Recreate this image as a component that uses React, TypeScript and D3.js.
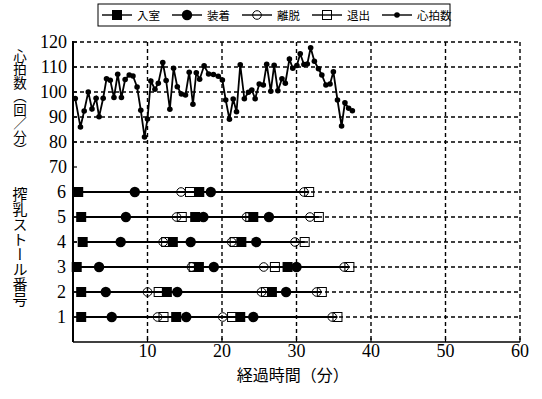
import { scaleLinear, line } from "d3";

// heart rate (minutes, beats/min)
const hrTimes = [
  0.3, 1.0, 1.5, 2.05, 2.55, 3.1, 3.5, 4.05, 4.5, 5.0, 5.5, 6.0, 6.5, 7.0, 7.55, 8.05, 8.6, 9.1, 9.6, 10.0,
  10.45, 11.0, 11.45, 12.05, 12.5, 13.0, 13.5, 14.0, 14.55, 15.1, 15.6, 16.1, 16.55, 17.0, 17.6, 18.2, 18.85,
  19.5, 20.05, 20.5, 21.0, 21.5, 21.95, 22.45, 23.0, 23.55, 24.0, 24.45, 25.0, 25.55, 26.0, 26.55, 27.0, 27.5,
  28.05, 28.5, 29.05, 29.5, 30.05, 30.5, 31.0, 31.45, 31.9, 32.4, 32.95, 33.4, 33.95, 34.5, 34.95, 35.5, 36.05,
  36.5, 37.0, 37.5,
];
const hrValues = [
  97.4, 86.0, 92.4, 100, 93.2, 97.5, 90.1, 97.5, 105.3, 104.7, 97.8, 107.1, 97.8, 105, 106.8, 106.4, 102, 92.7,
  82, 89.2, 104.4, 101.1, 103.5, 111.8, 104.6, 93.1, 109.5, 102.1, 99.2, 98.8, 107.9, 95.1, 107.7, 105.1, 110.5,
  107.2, 107, 106.3, 104.8, 96.8, 89.1, 97.2, 92.1, 110.9, 97.3, 99.9, 100.8, 97.3, 103.2, 102.8, 111.1, 100.3,
  110.7, 100.5, 105.3, 103.5, 113.2, 109.5, 110.6, 115.3, 111, 111.2, 117.7, 112.3, 109.3, 106.8, 102.8, 103.2,
  108.1, 96.8, 86.4, 95.7, 93.5, 92.5,
];

// milking stalls 1..6, event times (minutes)
const stalls = [1, 2, 3, 4, 5, 6];
const enterTimes = [
  [1.1, 13.85, 22.45],
  [1.1, 12.6, 26.7],
  [0.5, 16.9, 28.8],
  [1.3, 13.4, 22.6],
  [1.1, 16.4, 24.2],
  [0.7, 16.95],
];
const attachTimes = [
  [5.2, 15.2, 24.2],
  [4.4, 14.0, 28.6],
  [3.5, 18.9, 30.0],
  [6.4, 15.8, 24.6],
  [7.1, 17.5, 26.3],
  [8.3, 18.5],
];
const detachTimes = [
  [11.35, 20.1, 34.8],
  [10.0, 25.3, 32.7],
  [15.9, 25.6, 36.4],
  [12.1, 21.3, 29.8],
  [13.9, 23.3, 31.8],
  [14.5, 31.0],
];
const exitTimes = [
  [12.15, 21.35, 35.5],
  [11.5, 25.9, 33.4],
  [16.2, 27.1, 37.1],
  [12.5, 21.7, 31.1],
  [14.6, 23.8, 33.0],
  [15.7, 31.7],
];

const xTicks = [10, 20, 30, 40, 50, 60];
const hrTicks = [70, 80, 90, 100, 110, 120];
const hrGrid = [80, 90, 100, 110, 120];
const legendLabels = ["入室", "装着", "離脱", "退出", "心拍数"];
const xTitle = "経過時間（分）";
const yTitleTop = "心拍数（回／分）";
const yTitleBottom = "搾乳ストール番号";

const W = 542;
const H = 399;
const serif = "'Liberation Serif', 'DejaVu Serif', serif";
const cjk = "'Noto Sans CJK JP', sans-serif";

const x = scaleLinear().domain([0, 60]).range([73, 520]);
// one slot per stall row, then 70..120 in slots 7..12
const y = scaleLinear().domain([0, 12]).range([342, 42]);
const yHr = scaleLinear().domain([70, 120]).range([y(7), y(12)]);

type Kind = "enter" | "attach" | "detach" | "exit" | "hr";

function Marker({ kind, cx, cy }: { kind: Kind; cx: number; cy: number }) {
  if (kind === "enter") return <rect x={cx - 5} y={cy - 5} width={10} height={10} fill="#000" />;
  if (kind === "attach") return <circle cx={cx} cy={cy} r={5.2} fill="#000" />;
  if (kind === "detach") return <circle cx={cx} cy={cy} r={4.3} fill="none" stroke="#000" strokeWidth={1} />;
  if (kind === "exit")
    return <rect x={cx - 4.5} y={cy - 4.5} width={9} height={9} fill="none" stroke="#000" strokeWidth={1} />;
  return <circle cx={cx} cy={cy} r={2.8} fill="#000" />;
}

const legendKinds: Kind[] = ["enter", "attach", "detach", "exit", "hr"];

export default function App() {
  const hrPath = line<number>()
    .x((_, i) => x(hrTimes[i]))
    .y((v) => yHr(v))(hrValues);

  const [x0, x1] = x.range();
  const yTop = y(12);
  const yBot = y(0);

  return (
    <div style={{ position: "absolute", left: 0, top: 0 }}>
      <svg width={W} height={H} style={{ display: "block", background: "#fff" }}>
        {/* dashed grid */}
        <g stroke="#000" strokeWidth={1.4} strokeDasharray="4,3" fill="none">
          {xTicks.map((t) => (
            <line key={"v" + t} x1={x(t)} x2={x(t)} y1={yTop} y2={yBot} />
          ))}
          {hrGrid.map((v) => (
            <line key={"h" + v} x1={x0} x2={x1} y1={yHr(v)} y2={yHr(v)} />
          ))}
          {stalls.map((s) => (
            <line key={"s" + s} x1={x0} x2={x1} y1={y(s)} y2={y(s)} />
          ))}
        </g>

        {/* axes */}
        <line x1={x0} x2={x0} y1={yTop - 1} y2={yBot} stroke="#000" strokeWidth={2} />
        <line x1={x0} x2={x1} y1={yBot} y2={yBot} stroke="#000" strokeWidth={1.6} />
        {xTicks.map((t) => (
          <line key={"xt" + t} x1={x(t)} x2={x(t)} y1={yBot} y2={yBot - 4} stroke="#000" strokeWidth={1.2} />
        ))}
        {[...stalls, 7, 8, 9, 10, 11, 12].map((s) => (
          <line key={"yt" + s} x1={x0} x2={x0 + 4} y1={y(s)} y2={y(s)} stroke="#000" strokeWidth={1.2} />
        ))}

        {/* tick labels */}
        <g fontFamily={serif} fontSize={18} fill="#000">
          {xTicks.map((t) => (
            <text key={"xl" + t} x={x(t)} y={357} textAnchor="middle">
              {t}
            </text>
          ))}
          {hrTicks.map((v) => (
            <text key={"hl" + v} x={67} y={yHr(v) + 6} textAnchor="end">
              {v}
            </text>
          ))}
          {stalls.map((s) => (
            <text key={"sl" + s} x={66} y={y(s) + 6} textAnchor="end">
              {s}
            </text>
          ))}
        </g>

        {/* titles */}
        <text x={x(29.5)} y={381} textAnchor="middle" fontFamily={cjk} fontSize={16} fill="#000">
          {xTitle}
        </text>
        <text x={20} y={49} fontFamily={cjk} fontSize={13.5} fill="#000" style={{ writingMode: "vertical-rl" }}>
          {yTitleTop}
        </text>
        <text x={20} y={187} fontFamily={cjk} fontSize={15} fill="#000" style={{ writingMode: "vertical-rl" }}>
          {yTitleBottom}
        </text>

        {/* stall rows */}
        {stalls.map((s, i) => {
          const cy = y(s);
          const start = Math.min(...enterTimes[i]);
          const end = Math.max(...exitTimes[i]);
          return (
            <g key={"row" + s}>
              <line x1={x(start)} x2={x(end)} y1={cy} y2={cy} stroke="#000" strokeWidth={1.8} />
              {exitTimes[i].map((t, j) => (
                <Marker key={"ex" + j} kind="exit" cx={x(t)} cy={cy} />
              ))}
              {detachTimes[i].map((t, j) => (
                <Marker key={"de" + j} kind="detach" cx={x(t)} cy={cy} />
              ))}
              {enterTimes[i].map((t, j) => (
                <Marker key={"en" + j} kind="enter" cx={x(t)} cy={cy} />
              ))}
              {attachTimes[i].map((t, j) => (
                <Marker key={"at" + j} kind="attach" cx={x(t)} cy={cy} />
              ))}
            </g>
          );
        })}

        {/* heart rate */}
        <path d={hrPath ?? ""} fill="none" stroke="#000" strokeWidth={1.8} />
        {hrValues.map((v, i) => (
          <Marker key={"hr" + i} kind="hr" cx={x(hrTimes[i])} cy={yHr(v)} />
        ))}

        {/* legend */}
        <rect x={98} y={4} width={352} height={22} fill="#fff" stroke="#000" strokeWidth={1} />
        {legendLabels.map((label, i) => {
          const lx = 102 + i * 70;
          return (
            <g key={"lg" + i}>
              <line x1={lx} x2={lx + 30} y1={15} y2={15} stroke="#000" strokeWidth={1.4} />
              <Marker kind={legendKinds[i]} cx={lx + 15} cy={15} />
              <text x={lx + 35} y={19.5} fontFamily={cjk} fontSize={11.5} fill="#000">
                {label}
              </text>
            </g>
          );
        })}
      </svg>
    </div>
  );
}
